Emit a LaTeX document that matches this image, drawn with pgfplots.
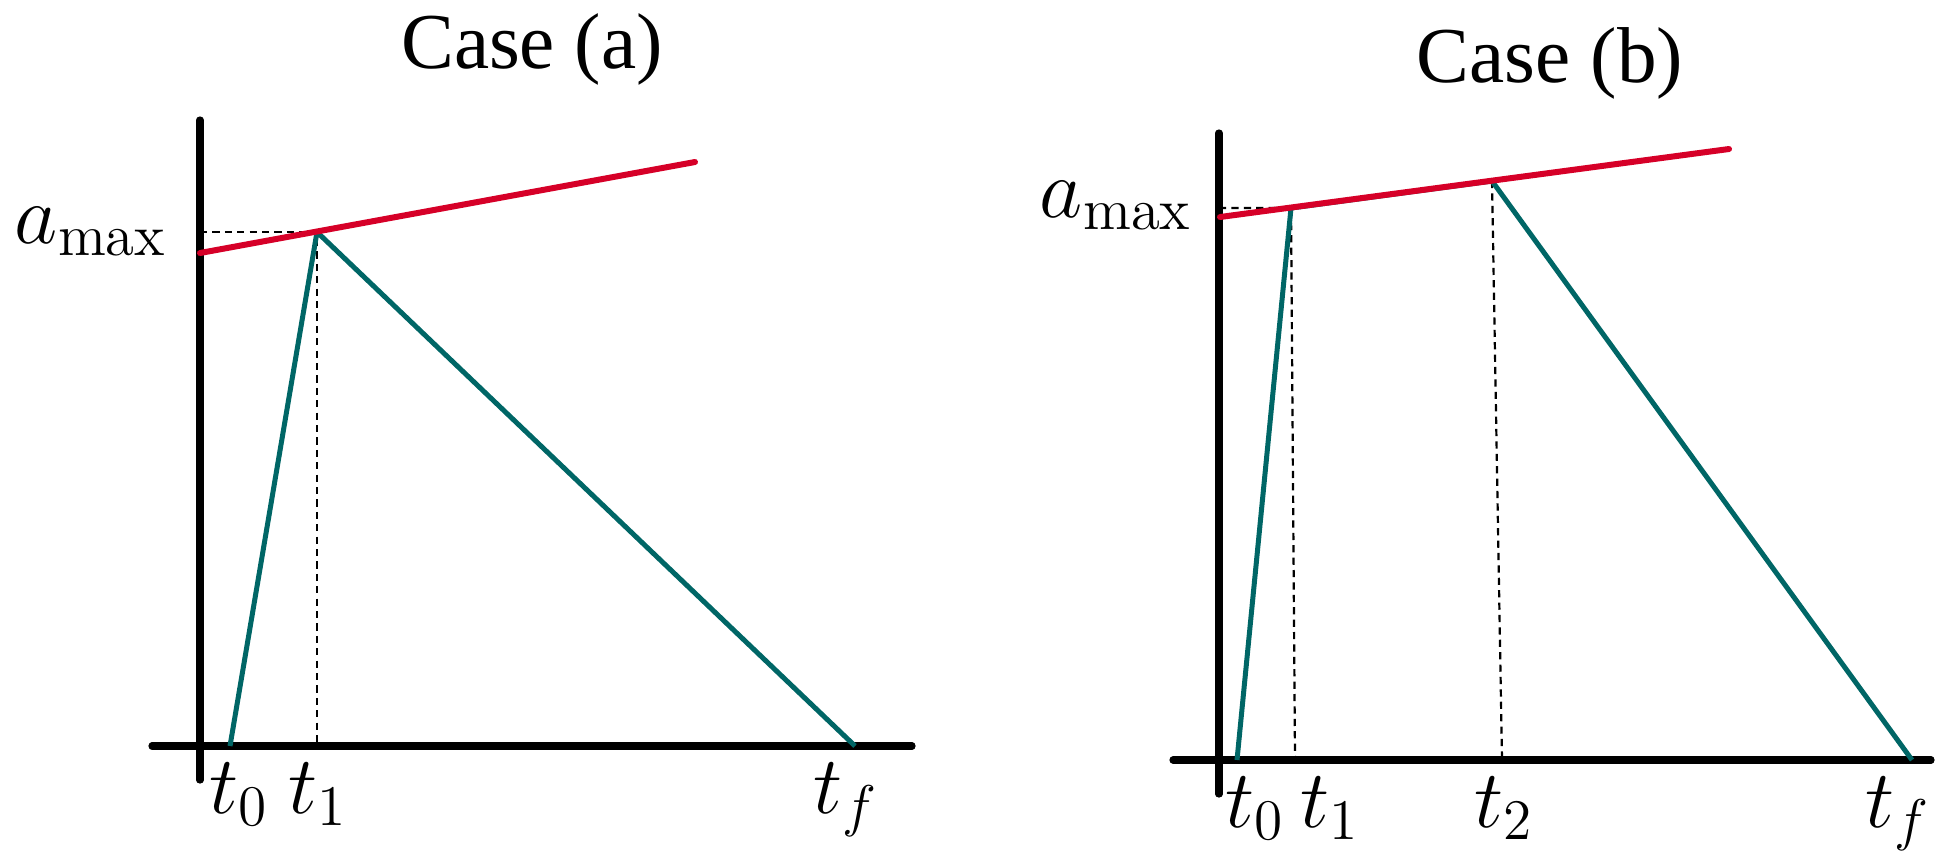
\RequirePackage{fix-cm}
\documentclass[border=0pt]{standalone}
\usepackage{fontspec}
\newfontfamily\titlefont{Liberation Serif}
\usepackage{pgfplots}
\pgfplotsset{compat=1.18}
\definecolor{cred}{RGB}{214,0,40}
\definecolor{cteal}{RGB}{0,102,102}
\newcommand{\lblfont}{\fontsize{20.5}{24}\selectfont}
\newcommand{\amfont}{\fontsize{21}{25}\selectfont}
\newcommand{\ttlfont}{\titlefont\fontsize{19.8}{23}\selectfont}
\begin{document}
\begin{tikzpicture}
\pgfplotsset{panel/.style={x=0.25pt,y=0.25pt,hide axis,clip=false,ymin=0,ymax=861,anchor=south west}}
% ---------------- Case (a) ----------------
\begin{axis}[panel, at={(0pt,0pt)}, xmin=0, xmax=973]
\addplot[draw=none] coordinates {(0,0) (973,861)};
\addplot[black, line width=1.8pt, line cap=round] coordinates {(200,741) (200,81)};
\addplot[black, line width=1.8pt, line cap=round] coordinates {(152,115) (912,115)};
\addplot[black, line width=0.55pt, dash pattern=on 1.8pt off 1.3pt] coordinates {(200,629) (317,629) (317,115)};
\addplot[cteal, line width=1.25pt, line join=round] coordinates {(230,115) (317,629) (855,115)};
\addplot[cred, line width=1.5pt, line cap=round] coordinates {(200,608) (695,699)};
\node[anchor=base east, inner sep=0pt, font=\amfont] at (axis cs:168,618) {$a_{\max}$};
\node[anchor=base, inner sep=0pt, font=\lblfont] at (axis cs:239,48) {$t_0$};
\node[anchor=base, inner sep=0pt, font=\lblfont] at (axis cs:318,48) {$t_1$};
\node[anchor=base, inner sep=0pt, font=\lblfont] at (axis cs:846,48) {$t_f$};
\node[anchor=base, inner sep=0pt, font=\ttlfont] at (axis cs:532,793) {Case (a)};
\end{axis}
% ---------------- Case (b) ----------------
\begin{axis}[panel, at={(243.25pt,0pt)}, xmin=973, xmax=1946]
\addplot[draw=none] coordinates {(973,0) (1946,861)};
\addplot[black, line width=1.8pt, line cap=round] coordinates {(1219,728) (1219,67)};
\addplot[black, line width=1.8pt, line cap=round] coordinates {(1173,101) (1931,101)};
\addplot[black, line width=0.55pt, dash pattern=on 1.8pt off 1.3pt] coordinates {(1219,653) (1291,653) (1295,101)};
\addplot[black, line width=0.55pt, dash pattern=on 1.8pt off 1.3pt] coordinates {(1492,680) (1502,101)};
\addplot[cteal, line width=1.25pt, line join=round] coordinates {(1237,101) (1291,653) (1492,680) (1912,101)};
\addplot[cred, line width=1.5pt, line cap=round] coordinates {(1220,644) (1729,712)};
\node[anchor=base east, inner sep=0pt, font=\amfont] at (axis cs:1193,644) {$a_{\max}$};
\node[anchor=base, inner sep=0pt, font=\lblfont] at (axis cs:1255,34) {$t_0$};
\node[anchor=base, inner sep=0pt, font=\lblfont] at (axis cs:1330,34) {$t_1$};
\node[anchor=base, inner sep=0pt, font=\lblfont] at (axis cs:1504,34) {$t_2$};
\node[anchor=base, inner sep=0pt, font=\lblfont] at (axis cs:1898,34) {$t_f$};
\node[anchor=base, inner sep=0pt, font=\ttlfont] at (axis cs:1550,779) {Case (b)};
\end{axis}
\end{tikzpicture}
\end{document}
